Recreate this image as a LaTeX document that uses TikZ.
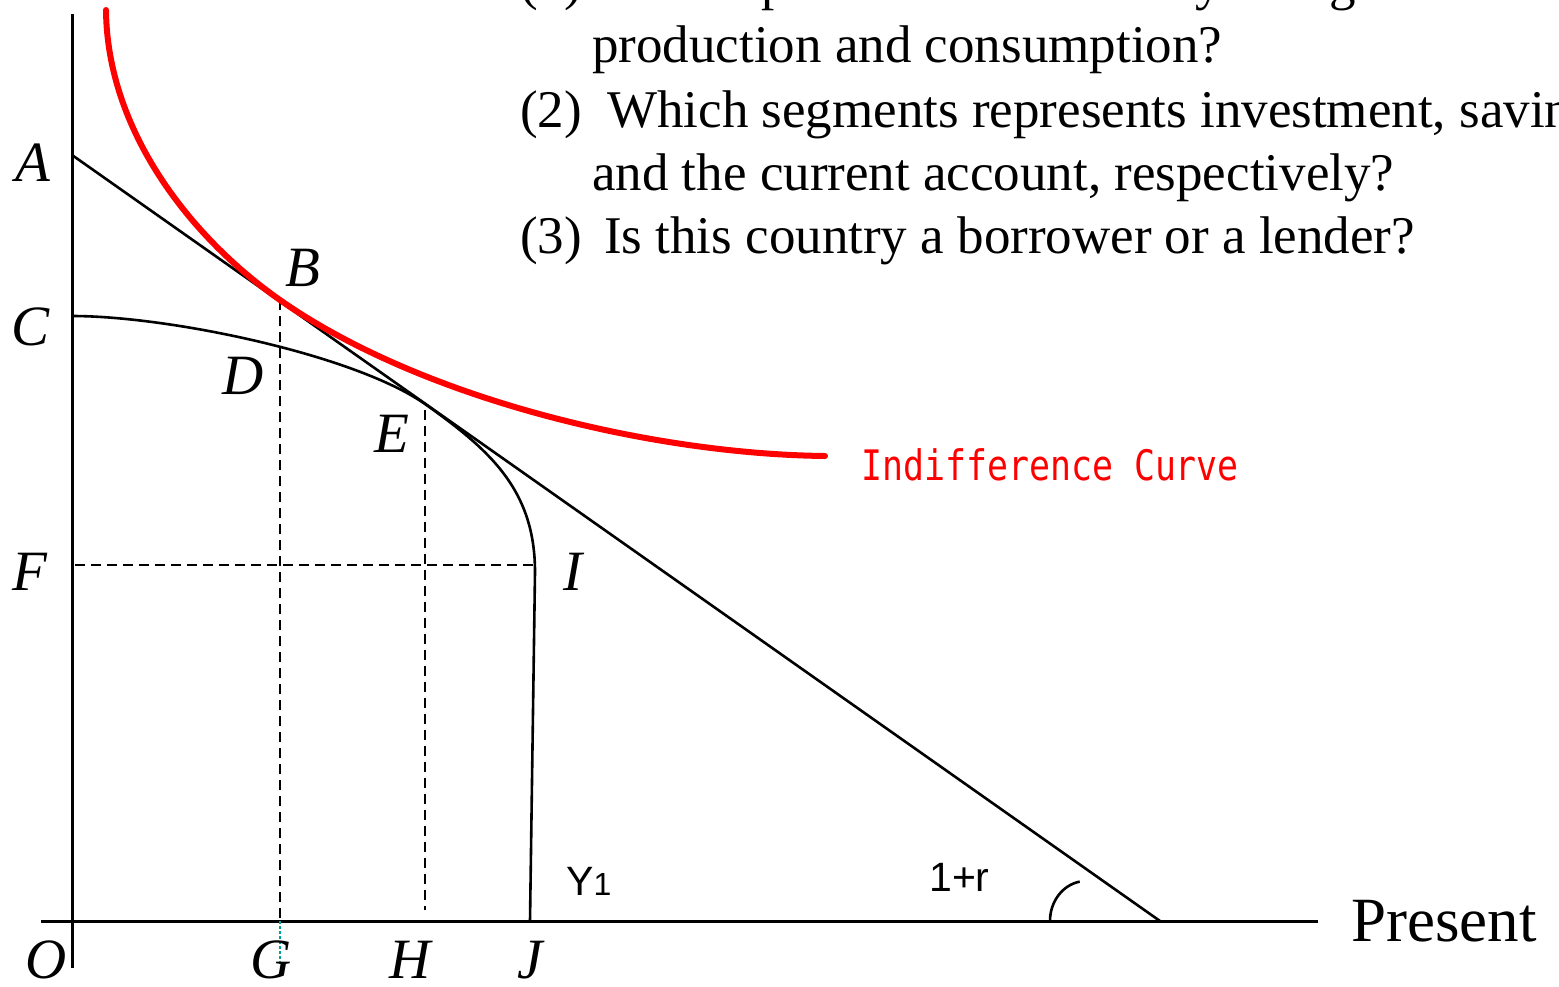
\documentclass[tikz,border=0pt]{standalone}
\usepackage{fontspec}
\setmainfont{Liberation Serif}
\newfontfamily\sansf{Liberation Sans}
\newfontfamily\icfont[FakeStretch=0.83]{DejaVu Sans Mono}
\definecolor{tealdot}{RGB}{0,160,160}
\begin{document}
\begin{tikzpicture}[x=1pt,y=-1pt,
  axis/.style={line width=3pt},
  thinline/.style={line width=2.6pt},
  dsh/.style={line width=2.5pt, dash pattern=on 10pt off 6pt},
  lbl/.style={font=\fontsize{57}{60}\selectfont\itshape, inner sep=0pt},
  qtext/.style={font=\fontsize{53}{64}\selectfont, inner sep=0pt, anchor=base west},
  sanslbl/.style={font=\sansf\fontsize{41}{44}\selectfont, inner sep=0pt, anchor=base west},
  ]
\useasboundingbox (0,0) rectangle (1559,986);
% key points
\coordinate (Otop) at (72,14);
\coordinate (Obot) at (72,968);
\coordinate (Xl) at (41,921);
\coordinate (Xr) at (1318,921);
\coordinate (A) at (72,155);
\coordinate (K) at (1160,921);
\coordinate (B) at (280,300);
\coordinate (C) at (72,316);
\coordinate (E) at (425,404);
\coordinate (I) at (535,572);
\coordinate (J) at (530,921);
\coordinate (G) at (280,921);
\coordinate (Gb) at (280,966);
\coordinate (H) at (425,910);
\coordinate (Et) at (425,410);
\coordinate (F) at (75,565);
\coordinate (Fr) at (535,565);
\coordinate (R0) at (106,10);
\coordinate (R1) at (825,456);
\coordinate (arcS) at (1050,921);
% axes
\draw[axis] (Otop) -- (Obot);
\draw[axis] (Xl) -- (Xr);
% budget line
\draw[thinline] (A) -- (K);
% production possibility frontier
\draw[thinline] (C) .. controls (170,316) and (355,355) .. (E)
  .. controls (490,450) and (535,490) .. (I) -- (J);
% dashed guides
\draw[dsh] (B) -- (G);
\draw[tealdot, line width=2.5pt, dash pattern=on 2.5pt off 2.5pt] (G) -- (Gb);
\draw[dsh] (Et) -- (H);
\draw[dsh] (F) -- (Fr);
% indifference curve
\draw[red, line width=6pt, line cap=round] (R0) .. controls (107,130) and (190,237) .. (B)
  .. controls (420,398) and (650,454) .. (R1);
% angle arc
\draw[thinline] (arcS) arc[start angle=180, end angle=100, x radius=36pt, y radius=40pt];
% point labels
\node[lbl] (lA) at (33,163) {A};
\node[lbl] (lC) at (31,327) {C};
\node[lbl] (lF) at (30,572) {F};
\node[lbl] (lB) at (303,268) {B};
\node[lbl] (lD) at (243,376) {D};
\node[lbl] (lE) at (392,434) {E};
\node[lbl] (lI) at (573,572) {I};
\node[lbl] (lO) at (46,960) {O};
\node[lbl] (lG) at (271,960) {G};
\node[lbl] (lH) at (410,960) {H};
\node[lbl] (lJ) at (530,960) {J};
% other labels
\node[font=\icfont\fontsize{42}{48}\selectfont, text=red, anchor=base west, inner sep=0pt] (ic) at (861,480) {Indifference Curve};
\node[sanslbl] (y1) at (566,895) {Y{\fontsize{32}{36}\selectfont 1}};
\node[sanslbl] (oner) at (929,891) {1+r};
\node[font=\fontsize{63}{70}\selectfont, anchor=base west, inner sep=0pt] (pres) at (1351,941) {Present};
% questions
\node[qtext] (n1) at (520,-1) {(1)};
\node[qtext] (t1) at (607,-1) {Which points are the country's original};
\node[qtext] (t1b) at (592,62) {production and consumption?};
\node[qtext] (n2) at (520,127) {(2)};
\node[qtext] (t2) at (607,127) {Which segments represents investment, savings,};
\node[qtext] (t2b) at (592,190) {and the current account, respectively?};
\node[qtext] (n3) at (520,253) {(3)};
\node[qtext] (t3) at (604,253) {Is this country a borrower or a lender?};
\end{tikzpicture}
\end{document}
